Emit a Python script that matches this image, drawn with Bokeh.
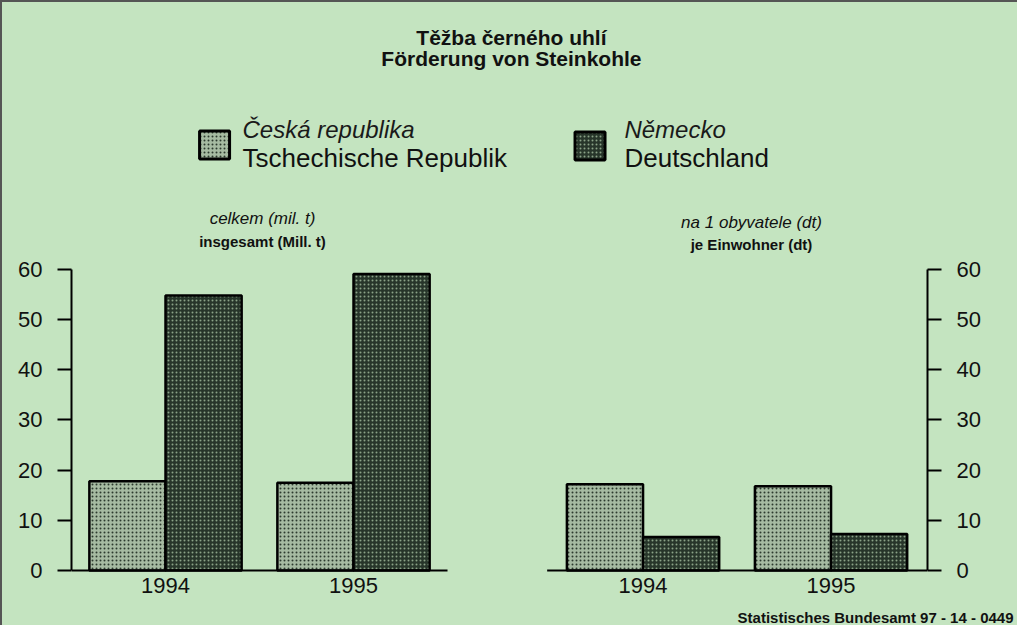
from bokeh.plotting import figure
from bokeh.layouts import column
from bokeh.models import ColumnDataSource, Range1d, LinearAxis, FixedTicker
from bokeh.core.properties import value
from bokeh.transform import dodge
from bokeh.embed import file_html
from bokeh.resources import INLINE

# ---- data ----
years = ["1994", "1995"]
series_cz = ["Česká republika", "Tschechische Republik"]
series_de = ["Německo", "Deutschland"]
total_cz = [17.8, 17.5]      # mil. t
total_de = [54.8, 59.1]
percap_cz = [17.2, 16.8]     # dt per inhabitant
percap_de = [6.7, 7.3]
yticks = [0, 10, 20, 30, 40, 50, 60]
title_lines = ["Těžba černého uhlí", "Förderung von Steinkohle"]
sub_total = ["celkem (mil. t)", "insgesamt (Mill. t)"]
sub_percap = ["na 1 obyvatele (dt)", "je Einwohner (dt)"]
footer = ["Statistisches Bundesamt 97 - 14 - 0449"]

BG = "#c4e4c0"
INK = "#111111"
FONT = value("Liberation Sans")
CZ_STYLE = dict(fill_color="#a6bba2", hatch_pattern=".", hatch_color="#2c3a2e",
                hatch_scale=4, hatch_weight=1, line_color="black", line_width=2.5)
DE_STYLE = dict(fill_color="#27352a", hatch_pattern=".", hatch_color="#8aa287",
                hatch_scale=4, hatch_weight=1, line_color="black", line_width=2.5)

W = 1015
H_MAIN, H_FOOT = 606, 17
YLO, YHI = -7.575, 113.22
p = figure(width=W, height=H_MAIN, output_backend="svg", toolbar_location=None,
           x_range=Range1d(0, 4.553), y_range=Range1d(YLO, YHI),
           x_axis_type=None, y_axis_type=None,
           min_border_left=69, min_border_right=90, min_border_top=0, min_border_bottom=0,
           background_fill_color=None, border_fill_color=None, outline_line_color=None)
p.styles = {"background-color": BG}
p.extra_y_ranges = {"percap": Range1d(YLO, YHI)}
p.xgrid.visible = False
p.ygrid.visible = False


def style_axis(ax):
    ax.ticker = FixedTicker(ticks=yticks)
    ax.bounds = (0, 60)
    ax.axis_line_width = 2
    ax.axis_line_color = "black"
    ax.major_tick_line_width = 2
    ax.major_tick_line_color = "black"
    ax.major_tick_out = 14
    ax.major_tick_in = 0
    ax.minor_tick_line_color = None
    ax.major_label_standoff = 15
    ax.major_label_text_font = "Liberation Sans"
    ax.major_label_text_font_size = "22px"
    ax.major_label_text_color = INK


ax_l = LinearAxis()
style_axis(ax_l)
p.add_layout(ax_l, "left")
ax_r = LinearAxis(y_range_name="percap")
style_axis(ax_r)
p.add_layout(ax_r, "right")

left_pos = [0.5, 1.5]
right_pos = [3.04, 4.04]
src_total = ColumnDataSource(dict(x=left_pos, cz=total_cz, de=total_de, year=years))
src_pc = ColumnDataSource(dict(x=right_pos, cz=percap_cz, de=percap_de, year=years))

BW = 0.405
OFF = BW / 2
p.vbar(x=dodge("x", -OFF), top="cz", bottom=0, width=BW, source=src_total, **CZ_STYLE)
p.vbar(x=dodge("x", OFF), top="de", bottom=0, width=BW, source=src_total, **DE_STYLE)
p.vbar(x=dodge("x", -OFF), top="cz", bottom=0, width=BW, source=src_pc,
       y_range_name="percap", **CZ_STYLE)
p.vbar(x=dodge("x", OFF), top="de", bottom=0, width=BW, source=src_pc,
       y_range_name="percap", **DE_STYLE)

# baselines
p.segment(x0=[0, 2.53], y0=[0, 0], x1=[2.0, 4.553], y1=[0, 0], line_color="black", line_width=2)

# year labels
for src in (src_total, src_pc):
    p.text(x="x", y=-3.0, text="year", source=src, text_font=FONT, text_font_size="22px",
           text_align="center", text_baseline="middle", text_color=INK)

# title
p.text(x=[2.34, 2.34], y=[106.3, 102.0], text=title_lines, text_font=FONT,
       text_font_size="21px", text_font_style="bold", text_align="center",
       text_baseline="middle", text_color=INK)

# legend
p.rect(x=[0.761], y=[84.8], width=30, height=28, width_units="screen", height_units="screen",
       **{**CZ_STYLE, "line_width": 3})
p.rect(x=[2.758], y=[84.6], width=30, height=28, width_units="screen", height_units="screen",
       **{**DE_STYLE, "line_width": 3})
for x0, lines in ((0.9096, series_cz), (2.941, series_de)):
    p.text(x=[x0], y=[87.9], text=[lines[0]], text_font=FONT, text_font_size="24px",
           text_font_style="italic", text_baseline="middle", text_color="#1a1a1a")
    p.text(x=[x0], y=[82.3], text=[lines[1]], text_font=FONT, text_font_size="26px",
           text_baseline="middle", text_color=INK)

# panel subtitles
for xc, ys, lines in ((1.016, (70.2, 65.6), sub_total), (3.617, (69.3, 64.9), sub_percap)):
    p.text(x=[xc], y=[ys[0]], text=[lines[0]], text_font=FONT, text_font_size="17px",
           text_font_style="italic", text_align="center", text_baseline="middle",
           text_color=INK)
    p.text(x=[xc], y=[ys[1]], text=[lines[1]], text_font=FONT, text_font_size="15px",
           text_font_style="bold", text_align="center", text_baseline="middle",
           text_color=INK)

# footer strip
f = figure(width=W, height=H_FOOT, output_backend="svg", toolbar_location=None,
           x_range=Range1d(0, W), y_range=Range1d(0, 1),
           x_axis_type=None, y_axis_type=None,
           min_border_left=0, min_border_right=0, min_border_top=0, min_border_bottom=0,
           background_fill_color=None, border_fill_color=None, outline_line_color=None)
f.styles = {"background-color": BG}
f.xgrid.visible = False
f.ygrid.visible = False
f.text(x=[W - 4], y=[0.45], text=footer, text_font=FONT, text_font_size="15px",
       text_font_style="bold", text_align="right", text_baseline="middle", text_color=INK)

for fig in (p, f):
    if "frame_align" in fig.properties():
        fig.frame_align = False

layout = column(p, f, spacing=0)
layout.styles = {"border-top": "2px solid #555555", "border-left": "2px solid #555555",
                 "background-color": BG}

open("out.html", "w").write(file_html(layout, INLINE))
